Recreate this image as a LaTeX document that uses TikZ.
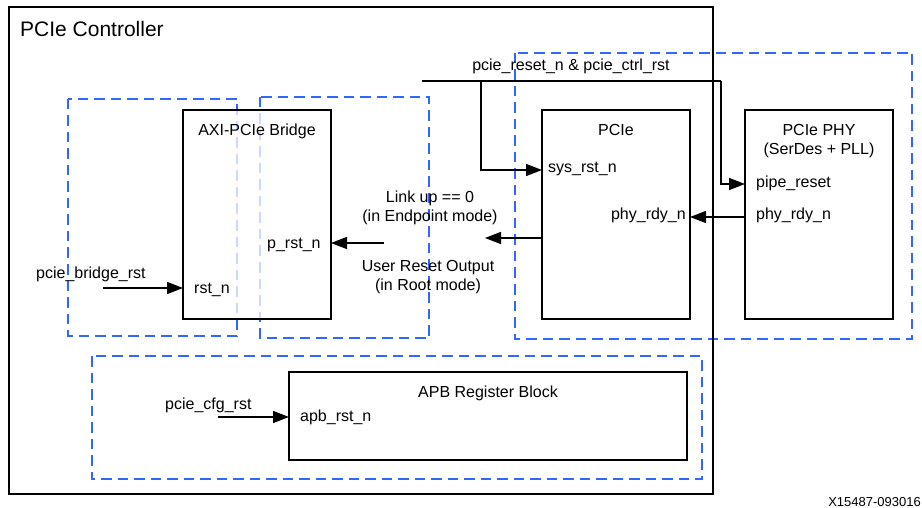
\documentclass[tikz,border=0pt]{standalone}
\usepackage{fontspec}
\setmainfont{Liberation Sans}
\usetikzlibrary{arrows.meta}
\definecolor{dashblue}{RGB}{51,102,255}
\begin{document}
\begin{tikzpicture}[x=1pt,y=-1pt,
  lbl/.style={font=\fontsize{16}{19.5}\selectfont, inner sep=0pt},
  blk/.style={draw, line width=2.8pt, anchor=north west, outer sep=0pt, inner sep=0pt},
  grp/.style={draw=dashblue, line width=2.8pt, dash pattern=on 10.5pt off 6pt},
  conn/.style={line width=1.4pt},
  arr/.style={conn, -{Triangle[length=16pt,width=12pt]}},
]
\useasboundingbox (0,0) rectangle (922,508);

% dashed groups
\draw[grp] (68,99) rectangle (237,336);
\draw[grp] (260,97) rectangle (429,338);
\draw[grp] (92,356) rectangle (702,479);
\draw[grp] (515,53) rectangle (912,339);

% outer controller
\node[blk, line width=2.4pt, minimum width=704pt, minimum height=487pt] (ctrl) at (9,7) {};
\node[lbl, font=\fontsize{21}{25}\selectfont, anchor=base west] (ctrltitle) at (20,37) {PCIe Controller};

% blocks
\node[blk, fill=white, fill opacity=0.75, minimum width=148pt, minimum height=209pt] (axi) at (183,110) {};
\node[blk, minimum width=148pt, minimum height=209pt] (pcie) at (542,110) {};
\node[blk, minimum width=148pt, minimum height=209pt] (phy) at (745,110) {};
\node[blk, minimum width=398pt, minimum height=88pt] (apb) at (289,372) {};

% texts
\node[lbl, anchor=base] (axititle) at (257,136) {AXI-PCIe Bridge};
\node[lbl, anchor=base west] (prst) at (267,248) {p\_rst\_n};
\node[lbl, anchor=base west] (rstn) at (194,293) {rst\_n};
\node[lbl, anchor=base west] (bridgerst) at (36,278) {pcie\_bridge\_rst};
\node[lbl, align=center] (linkup) at (430,208) {Link up == 0\\(in Endpoint mode)};
\node[lbl, align=center] (userrst) at (428,277) {User Reset Output\\(in Root mode)};
\node[lbl, anchor=base] (rsttxt) at (571,71) {pcie\_reset\_n \& pcie\_ctrl\_rst};
\node[lbl, anchor=base] (pcietitle) at (616,136) {PCIe};
\node[lbl, anchor=base west] (sysrst) at (548,173) {sys\_rst\_n};
\node[lbl, anchor=base east] (phyrdyA) at (686,220) {phy\_rdy\_n};
\node[lbl, align=center] (phytitle) at (819,141) {PCIe PHY\\(SerDes + PLL)};
\node[lbl, anchor=base west] (piperst) at (756,188) {pipe\_reset};
\node[lbl, anchor=base west] (phyrdyB) at (756,220) {phy\_rdy\_n};
\node[lbl, anchor=base] (apbtitle) at (488,397) {APB Register Block};
\node[lbl, anchor=base west] (apbrst) at (300,421) {apb\_rst\_n};
\node[lbl, anchor=base west] (cfgrst) at (165,409) {pcie\_cfg\_rst};
\node[lbl, font=\fontsize{13}{15}\selectfont, anchor=base east] (fig) at (921,506) {X15487-093016};

% connectors
\coordinate (bsrc) at (103,288);
\draw[arr] (bsrc) -- (bsrc -| axi.west);
\coordinate (psrc) at (384,243);
\draw[arr] (psrc) -- (psrc -| axi.east);
\coordinate (csrc) at (218,417);
\draw[arr] (csrc) -- (csrc -| apb.west);

\coordinate (rsrc) at (422,81);
\coordinate (rsplit) at (481,81);
\coordinate (rturn) at (721,81);
\coordinate (ySys) at (0,170);
\coordinate (yPipe) at (0,184);
\coordinate (yRdy) at (0,217);
\draw[conn] (rsrc) -- (rturn);
\draw[arr] (rsplit) |- (pcie.west |- ySys);
\draw[arr] (rturn) |- (phy.west |- yPipe);
\draw[arr] (phy.west |- yRdy) -- (pcie.east |- yRdy);
\coordinate (outend) at (485,238);
\draw[arr] (outend -| pcie.west) -- (outend);
\end{tikzpicture}
\end{document}
